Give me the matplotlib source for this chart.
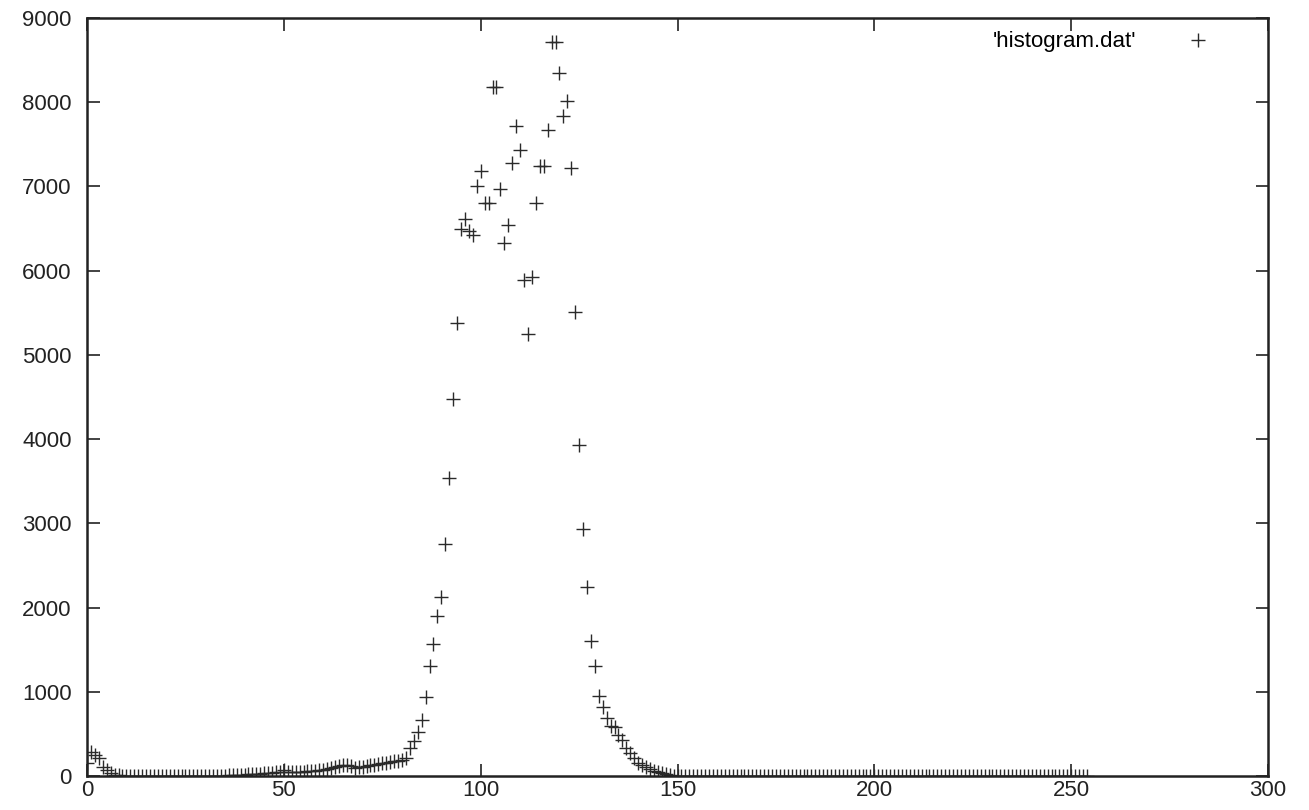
import numpy as np
import matplotlib.pyplot as plt

# grey-level histogram, bins 0..254
low = [155, 280, 250, 210, 110, 70, 30, 15, 8, 5, 4, 3, 3, 2, 2, 2, 2, 2, 2, 2,
       2, 2, 2, 2, 2, 2, 2, 2, 3, 3, 3, 3, 3, 4, 4, 5, 6, 8, 10, 12,
       15, 18, 20, 24, 28, 32, 36, 40, 45, 50, 75, 42, 45, 48, 50, 52, 55, 58, 62, 66,
       72, 80, 90, 105, 120, 130, 125, 118, 100, 105, 112, 120, 128, 135, 142, 150, 158, 165, 172, 180]
peak = [190, 210, 330, 410, 526, 665, 935, 1305, 1567, 1903,
        2130, 2750, 3535, 4473, 5375, 6490, 6610, 6465, 6425, 7010,
        7180, 6808, 6808, 8177, 8177, 6975, 6332, 6542, 7275, 7718,
        7433, 5890, 5248, 5920, 6808, 7243, 7243, 7670, 8712, 8712,
        8343, 7840, 8015, 7223, 5513, 3930, 2933, 2240, 1607, 1306,
        950, 816, 685, 590, 580, 490, 427, 330, 270, 218,
        158, 132, 103, 80, 62, 45, 30, 18, 10, 5]
tail = [3, 2, 2, 1, 1] + [0] * 100

counts = np.array(low + peak + tail)
bins = np.arange(len(counts))

plt.rcParams['font.family'] = ['Liberation Sans', 'DejaVu Sans']
fig = plt.figure(figsize=(13.09, 8.10), dpi=100)
ax = fig.add_axes([0.0665, 0.042, 0.9022, 0.9358])

ax.plot(bins, counts, linestyle='none', marker='+', markersize=10,
        markeredgewidth=1.0, color='#2a2a2a', label="'histogram.dat'")

ax.set_xlim(0, 300)
ax.set_ylim(0, 9000)
ax.set_xticks(np.arange(0, 301, 50))
ax.set_yticks(np.arange(0, 9001, 1000))
ax.tick_params(direction='in', length=9, width=1.2, top=True, right=True,
               labelsize=16, colors='#222222')
ax.tick_params(axis='y', pad=11)
ax.tick_params(axis='x', pad=3)
for axis in ['top', 'bottom', 'left', 'right']:
    ax.spines[axis].set_linewidth(1.8)
    ax.spines[axis].set_color('#222222')

leg = ax.legend(loc='upper right', frameon=False, markerfirst=False,
                fontsize=16, handlelength=2.0, handletextpad=1.8,
                borderaxespad=0.2, bbox_to_anchor=(0.971, 1.0))

plt.savefig('out.png', dpi=100)
